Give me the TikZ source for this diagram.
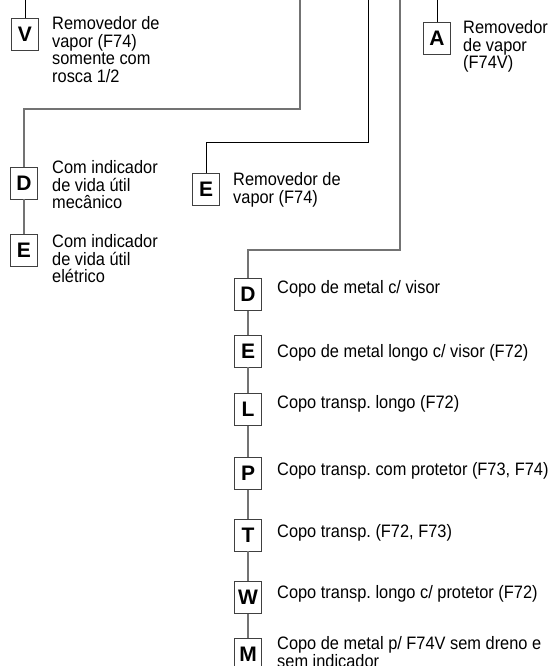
\documentclass[tikz,border=0pt]{standalone}
\usepackage{fontspec}
\setmainfont{Liberation Sans}[FakeStretch=0.91]
\newfontfamily\letterfont{Liberation Sans}
\usetikzlibrary{positioning}
\frenchspacing

\begin{document}
\begin{tikzpicture}[x=1pt,y=-1pt,
  letra/.style={draw=black!75, line width=0.8pt, fill=white, minimum width=27pt, minimum height=32pt, inner sep=0pt, font=\letterfont\bfseries\fontsize{21}{21}\selectfont},
  desc/.style={anchor=north west, inner sep=0pt, align=left, font=\fontsize{18}{17.8}\selectfont},
  fio/.style={black!55, line width=1.2pt},
  fioesc/.style={black, line width=0.9pt}]
\useasboundingbox (0,0) rectangle (551,666);
% ramo V
\coordinate (topo1) at (25,0);
\node[letra] (V) at (25,34) {V};
\node[desc] (tV) at (52,16) {Removedor de\\vapor (F74)\\somente com\\rosca 1/2};
\draw[fioesc] (topo1) -- (V);
% ramo A
\coordinate (topo4) at (437,0);
\node[letra] (A) at (437,38.5) {A};
\node[desc] (tA) at (463,20) {Removedor\\de vapor\\(F74V)};
\draw[fioesc] (topo4) -- (A);
% ramo D / E (indicador)
\coordinate (topo2) at (300,0);
\coordinate (dobra2) at (300,109);
\node[letra] (mD) at (24,183) {D};
\node[desc] (tmD) at (52,160) {Com indicador\\de vida útil\\mecânico};
\node[letra] (mE) at (24,250) {E};
\node[desc] (tmE) at (52,234) {Com indicador\\de vida útil\\elétrico};
\draw[fio] (topo2) -- (dobra2) -| (mD);
\draw[fio] (mD) -- (mE);
% ramo E (removedor)
\coordinate (topo3) at (368,0);
\coordinate (dobra3) at (368,142);
\node[letra] (vE) at (206,189.5) {E};
\node[desc] (tvE) at (233,172) {Removedor de\\vapor (F74)};
\draw[fioesc] (topo3) -- (dobra3) -| (vE);
% ramo dos copos
\coordinate (topo5) at (400,0);
\coordinate (dobra5) at (400,250);
\foreach \ch/\yc/\yb/\rot in {D/294.5/293/{Copo de metal c/ visor},
  E/351/357/{Copo de metal longo c/ visor (F72)},
  L/409.5/408/{Copo transp. longo (F72)},
  P/473.5/475/{Copo transp. com protetor (F73, F74)},
  T/535/537/{Copo transp. (F72, F73)},
  W/597.5/598/{Copo transp. longo c/ protetor (F72)},
  M/654.5/649/{Copo de metal p/ F74V sem dreno e\\sem indicador}} {
  \node[letra] (c\ch) at (248,\yc) {\ch};
  \node[desc] (t\ch) at (277,\yb-13) {\rot};
}
\draw[fio] (topo5) -- (dobra5) -| (cD);
\foreach \de/\para in {cD/cE,cE/cL,cL/cP,cP/cT,cT/cW,cW/cM}
  \draw[fio] (\de) -- (\para);
\end{tikzpicture}
\end{document}
